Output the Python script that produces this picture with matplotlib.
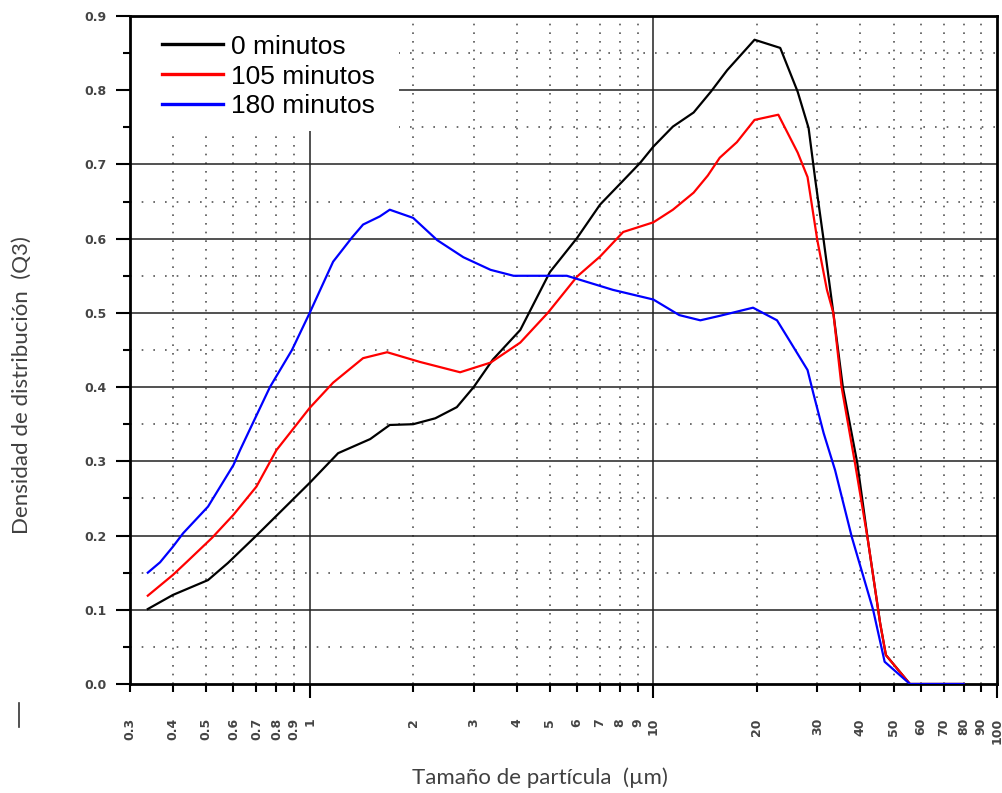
import numpy as np
import matplotlib.pyplot as plt
from matplotlib.patches import Rectangle
from matplotlib.lines import Line2D

# particle size (um) and distribution density (Q3) per grinding time
x_0min = [0.338, 0.40, 0.506, 0.578, 0.70, 1.0, 1.21, 1.5, 1.71, 2.0, 2.32, 2.68, 3.0,
          3.41, 4.1, 5.0, 6.0, 7.0, 8.2, 9.15, 10.0, 11.4, 13.1, 14.7, 16.4, 19.7, 23.4,
          26.3, 28.3, 29.6, 31.3, 33.4, 35.6, 39.2, 42.1, 45.7, 47.5, 55.8, 80]
y_0min = [0.101, 0.12, 0.140, 0.163, 0.20, 0.271, 0.311, 0.33, 0.349, 0.35, 0.358, 0.373, 0.40,
          0.437, 0.477, 0.555, 0.601, 0.646, 0.679, 0.702, 0.724, 0.751, 0.770, 0.798, 0.827, 0.868, 0.857,
          0.798, 0.749, 0.679, 0.598, 0.5, 0.4, 0.298, 0.194, 0.082, 0.039, 0.0, 0.0]

x_105min = [0.338, 0.40, 0.44, 0.52, 0.60, 0.70, 0.80, 1.0, 1.17, 1.43, 1.68, 2.09, 2.74, 3.36,
            4.1, 4.93, 6.0, 7.0, 8.17, 10.0, 11.4, 13.1, 14.4, 15.6, 17.5, 19.7, 23.1, 26.3,
            28.1, 30.0, 32.0, 33.4, 35.3, 38.6, 42.1, 45.7, 47.5, 55.8, 80]
y_105min = [0.119, 0.147, 0.165, 0.197, 0.228, 0.266, 0.315, 0.372, 0.406, 0.439, 0.447, 0.434, 0.420, 0.433,
            0.46, 0.5, 0.549, 0.576, 0.609, 0.622, 0.639, 0.662, 0.685, 0.709, 0.730, 0.76, 0.767, 0.716,
            0.683, 0.598, 0.531, 0.5, 0.4, 0.298, 0.194, 0.082, 0.039, 0.0, 0.0]

x_180min = [0.338, 0.367, 0.40, 0.428, 0.506, 0.60, 0.627, 0.684, 0.766, 0.888, 1.0, 1.17, 1.33, 1.43,
            1.60, 1.71, 2.0, 2.35, 2.8, 3.36, 3.92, 5.6, 7.63, 10.0, 11.9, 13.7, 15.6, 19.5, 22.9,
            24.5, 28.1, 29.2, 31.3, 33.8, 37.8, 43.6, 47.1, 55.8, 80]
y_180min = [0.150, 0.164, 0.185, 0.203, 0.239, 0.295, 0.315, 0.352, 0.40, 0.45, 0.5, 0.569, 0.602, 0.619,
            0.63, 0.639, 0.628, 0.598, 0.575, 0.558, 0.55, 0.55, 0.531, 0.518, 0.497, 0.49, 0.496, 0.507, 0.49,
            0.468, 0.423, 0.392, 0.338, 0.288, 0.198, 0.100, 0.030, 0.0, 0.0]

series_labels = ["0 minutos", "105 minutos", "180 minutos"]

xmajor = [1, 10, 100]
xminor = [0.3, 0.4, 0.5, 0.6, 0.7, 0.8, 0.9, 2, 3, 4, 5, 6, 7, 8, 9, 20, 30, 40, 50, 60, 70, 80, 90]

fig = plt.figure(figsize=(10.02, 7.93), dpi=100)
ax = fig.add_axes([130/1002, 1-684/793, 867/1002, 668/793])

ax.plot(x_0min, y_0min, color="black", lw=1.6, label=series_labels[0], zorder=3)
ax.plot(x_105min, y_105min, color="#ff0000", lw=1.6, label=series_labels[1], zorder=3)
ax.plot(x_180min, y_180min, color="#0000ff", lw=1.6, label=series_labels[2], zorder=3)

ax.set_xscale("log")
ax.set_xlim(0.3, 100)
ax.set_ylim(0, 0.9)

# ticks
ax.set_xticks(xmajor, labels=[str(v) for v in xmajor])
ax.set_xticks(xminor, labels=[f"{v:g}" for v in xminor], minor=True)
ax.set_yticks(np.arange(0, 0.91, 0.1), labels=[f"{v:.1f}" for v in np.arange(0, 0.91, 0.1)])
ax.set_yticks(np.arange(0.05, 0.9, 0.1), minor=True)

tick_font = dict(fontsize=9, fontweight="bold", color="#444444")
for lab in ax.get_xticklabels(which="both"):
    lab.set(rotation=90, va="top", ha="center", **tick_font)
for lab in ax.get_yticklabels():
    lab.set(**tick_font)

ax.tick_params(axis="x", which="major", length=10, width=1.5, pad=14, direction="out")
ax.tick_params(axis="x", which="minor", length=6, width=1.5, pad=18.5, direction="out")
ax.tick_params(axis="y", which="major", length=10, width=1.5, pad=7)
ax.tick_params(axis="y", which="minor", length=5, width=1.5)

for sp in ax.spines.values():
    sp.set_linewidth(2)

# grid: solid on decades/tenths, dotted in between
ax.set_axisbelow(True)
for xv in [1, 10]:
    ax.axvline(xv, color="#222222", lw=1.1, zorder=0.5)
for yv in np.arange(0.1, 0.85, 0.1):
    ax.axhline(yv, color="#222222", lw=1.1, zorder=0.5)
for xv in xminor[1:]:
    ax.axvline(xv, color="#555555", lw=1.2, ls=(0, (1, 4.2)), zorder=0.4)
for yv in np.arange(0.05, 0.9, 0.1):
    ax.axhline(yv, color="#555555", lw=1.2, ls=(0, (1, 6)), zorder=0.4)

# clear area behind the legend
ax.add_patch(Rectangle((0.3, 0.745), 1.82 - 0.3, 0.155, facecolor="white",
                       edgecolor="none", zorder=1))

leg = ax.legend(loc="upper left", bbox_to_anchor=(0.037, 0.972), frameon=False,
                prop={"family": "Liberation Sans", "size": 19},
                handlelength=2.3, handletextpad=0.3, labelspacing=0.22,
                borderpad=0, borderaxespad=0)
for line in leg.get_lines():
    line.set_linewidth(2.4)

fig.text(540/1002, 1-778/793, "Tamaño de partícula  (µm)", fontsize=16, family="Lato",
         color="#404040", ha="center", va="center")
fig.text(22/1002, 1-385/793, "Densidad de distribución  (Q3)", fontsize=16, family="Lato",
         color="#404040", ha="center", va="center", rotation=90)

fig.add_artist(Line2D([19/1002, 19/1002], [1-703/793, 1-727/793], color="#333333", lw=1.2))

fig.savefig("out.png", dpi=100)
